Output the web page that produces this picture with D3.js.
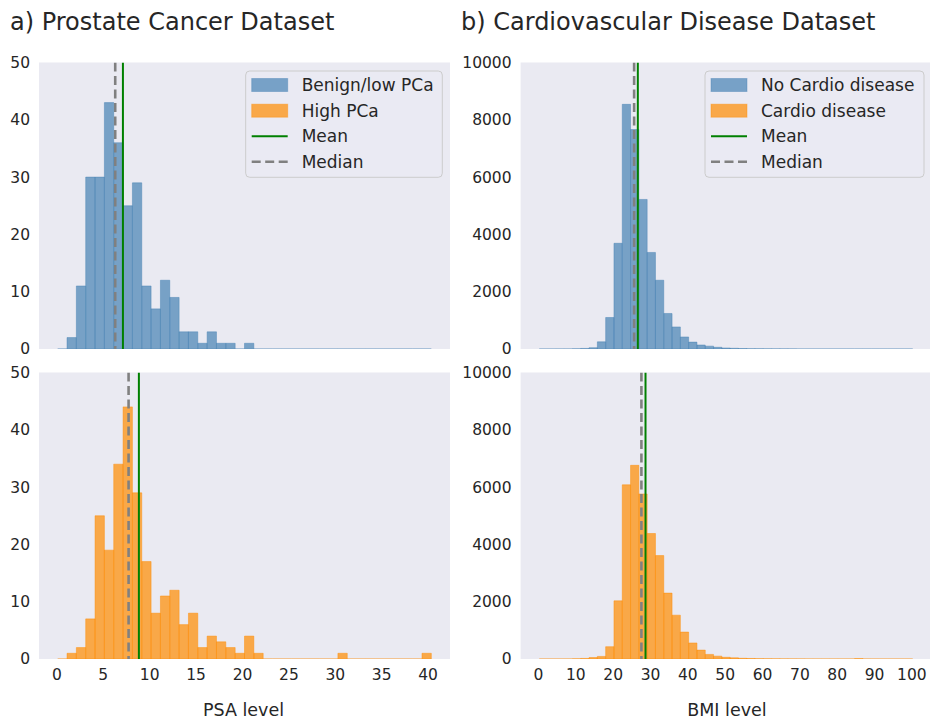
<!DOCTYPE html>
<html>
<head>
<meta charset="utf-8">
<script src="https://cdn.jsdelivr.net/npm/d3@7"></script>
<style>
  html, body { margin: 0; padding: 0; background: #ffffff; }
  svg { display: block; font-family: "DejaVu Sans", sans-serif; }
</style>
</head>
<body>
<svg id="chart" width="930" height="720"></svg>
<script>
// ---------------- Data ----------------
// Prostate dataset: PSA histogram, 40 equal bins from psaRange[0] to psaRange[1]
const psaRange = [0.14, 40.4];
const psaLowCounts  = [0, 2, 11, 30, 30, 43, 36, 25, 29, 11, 7, 12, 9, 3, 3, 1, 3, 1, 1, 0,
                       1, 0, 0, 0, 0, 0, 0, 0, 0, 0, 0, 0, 0, 0, 0, 0, 0, 0, 0, 0];
const psaHighCounts = [0, 1, 2, 7, 25, 19, 34, 44, 29, 17, 8, 11, 12, 6, 8, 2, 4, 3, 2, 1,
                       4, 1, 0, 0, 0, 0, 0, 0, 0, 0, 1, 0, 0, 0, 0, 0, 0, 0, 0, 1];
const psaLowStats  = { mean: 7.17, median: 6.34 };
const psaHighStats = { mean: 8.89, median: 7.78 };
const psaTicksX = [0, 5, 10, 15, 20, 25, 30, 35, 40];
const psaTicksY = [0, 10, 20, 30, 40, 50];

// Cardio dataset: BMI histogram, 45 equal bins from bmiRange[0] to bmiRange[1]
const bmiRange = [0.35, 100.35];
const bmiNoCounts = [0, 0, 1, 2, 5, 20, 45, 250, 1100, 3690, 8540, 7660, 5220, 3370, 2400, 1240,
                     770, 420, 240, 140, 100, 60, 35, 25, 15, 10, 8, 6, 5, 4, 3, 0, 0, 0, 0,
                     0, 0, 0, 0, 0, 0, 0, 0, 0, 0];
const bmiYesCounts = [0, 0, 0, 1, 5, 20, 50, 90, 430, 2030, 6080, 6760, 5760, 4380, 3610, 2300,
                      1530, 940, 560, 310, 160, 100, 60, 40, 25, 18, 12, 8, 6, 4, 3, 2, 1, 1, 1,
                      1, 1, 1, 15, 1, 0, 0, 0, 0, 0];
const bmiNoStats  = { mean: 26.74, median: 25.75 };
const bmiYesStats = { mean: 28.8, median: 27.7 };
const bmiTicksX = [0, 10, 20, 30, 40, 50, 60, 70, 80, 90, 100];
const bmiTicksY = [0, 2000, 4000, 6000, 8000, 10000];

const titles = ["a) Prostate Cancer Dataset", "b) Cardiovascular Disease Dataset"];
const xLabels = ["PSA level", "BMI level"];
const legendPCa = ["Benign/low PCa", "High PCa", "Mean", "Median"];
const legendCardio = ["No Cardio disease", "Cardio disease", "Mean", "Median"];

// ---------------- Styles ----------------
const BG = "#EAEAF2";
const TXT = "#262626";
const BLUE = "steelblue";
const ORANGE = "darkorange";
const MEAN_C = "green";
const MED_C = "gray";

const svg = d3.select("#chart");

// Layout
const topY = [62.5, 349];
const botY = [372.5, 659];
const leftX = [39, 450];
const rightX = [520.6, 931.4];

const xPSA = d3.scaleLinear().domain([-1.873, 42.413]).range(leftX);
const xBMI = d3.scaleLinear().domain([-4.65, 105.35]).range(rightX);

function binEdges(range, n) {
  const w = (range[1] - range[0]) / n;
  return d3.range(n + 1).map(i => range[0] + i * w);
}

function panel(opts) {
  const { x, yRange, yDomain, yTicks, counts, range, color, stats, showX, xTicks, legend } = opts;
  const y = d3.scaleLinear().domain(yDomain).range([yRange[1], yRange[0]]);
  const g = svg.append("g");
  const [x0, x1] = x.range();

  const clipId = "clip" + Math.random().toString(36).slice(2);
  g.append("clipPath").attr("id", clipId).append("rect")
    .attr("x", x0).attr("y", yRange[0]).attr("width", x1 - x0).attr("height", yRange[1] - yRange[0]);

  g.append("rect").attr("x", x0).attr("y", yRange[0])
    .attr("width", x1 - x0).attr("height", yRange[1] - yRange[0]).attr("fill", BG);

  const edges = binEdges(range, counts.length);
  const bins = counts.map((c, i) => ({ a: edges[i], b: edges[i + 1], c }));

  const plot = g.append("g").attr("clip-path", `url(#${clipId})`);
  plot.selectAll("path.bar").data(bins).enter().append("path")
    .attr("class", "bar")
    .attr("d", d => {
      const p = d3.path();
      const xa = x(d.a), xb = x(d.b), y0 = y(0), yc = y(d.c);
      p.moveTo(xa, y0); p.lineTo(xa, yc); p.lineTo(xb, yc); p.lineTo(xb, y0); p.closePath();
      return p.toString();
    })
    .attr("fill", color).attr("fill-opacity", 0.7)
    .attr("stroke", color).attr("stroke-opacity", 0.45).attr("stroke-width", 1);

  // Median & mean lines
  plot.append("line")
    .attr("x1", x(stats.median)).attr("x2", x(stats.median))
    .attr("y1", yRange[0]).attr("y2", yRange[1])
    .attr("stroke", MED_C).attr("stroke-width", 2.6).attr("stroke-dasharray", "9,4.5");
  plot.append("line")
    .attr("x1", x(stats.mean)).attr("x2", x(stats.mean))
    .attr("y1", yRange[0]).attr("y2", yRange[1])
    .attr("stroke", MEAN_C).attr("stroke-width", 2);

  // Y axis
  const yAxis = d3.axisLeft(y).tickValues(yTicks).tickSize(0).tickPadding(9).tickFormat(d3.format("d"));
  const ya = g.append("g").attr("transform", `translate(${x0},0)`).call(yAxis);
  ya.select(".domain").remove();
  ya.selectAll("text").attr("fill", TXT).style("font-size", "15.5px").style("font-family", "DejaVu Sans");

  if (showX) {
    const xAxis = d3.axisBottom(x).tickValues(xTicks).tickSize(0).tickPadding(10).tickFormat(d3.format("d"));
    const xa = g.append("g").attr("transform", `translate(0,${yRange[1]})`).call(xAxis);
    xa.select(".domain").remove();
    xa.selectAll("text").attr("fill", TXT).style("font-size", "15.5px").style("font-family", "DejaVu Sans");
  }

  if (legend) {
    const { bx, by, bw, bh, labels } = legend;
    const lg = g.append("g");
    lg.append("rect").attr("x", bx).attr("y", by).attr("width", bw).attr("height", bh)
      .attr("rx", 4).attr("fill", BG).attr("fill-opacity", 0.8)
      .attr("stroke", "#cccccc").attr("stroke-width", 1);
    const rows = [85, 110.7, 136.2, 161.7];
    const px = bx + 6;
    labels.forEach((lab, i) => {
      const cy = rows[i];
      if (i === 0 || i === 1) {
        lg.append("rect").attr("x", px).attr("y", cy - 6.5).attr("width", 36).attr("height", 13)
          .attr("fill", i === 0 ? BLUE : ORANGE).attr("fill-opacity", 0.7)
          .attr("stroke", i === 0 ? BLUE : ORANGE).attr("stroke-opacity", 0.4);
      } else if (i === 2) {
        lg.append("line").attr("x1", px).attr("x2", px + 36).attr("y1", cy).attr("y2", cy)
          .attr("stroke", MEAN_C).attr("stroke-width", 2);
      } else {
        lg.append("line").attr("x1", px).attr("x2", px + 36).attr("y1", cy).attr("y2", cy)
          .attr("stroke", MED_C).attr("stroke-width", 2.6).attr("stroke-dasharray", "9,4.5");
      }
      lg.append("text").attr("x", bx + 56).attr("y", cy).attr("dy", "0.36em")
        .attr("fill", TXT).style("font-size", "17px").text(lab);
    });
  }
}

panel({ x: xPSA, yRange: topY, yDomain: [0, 50], yTicks: psaTicksY, counts: psaLowCounts, range: psaRange,
        color: BLUE, stats: psaLowStats, showX: false,
        legend: { bx: 245.7, by: 71, bw: 196.6, bh: 106.3, labels: legendPCa } });
panel({ x: xPSA, yRange: botY, yDomain: [0, 50], yTicks: psaTicksY, counts: psaHighCounts, range: psaRange,
        color: ORANGE, stats: psaHighStats, showX: true, xTicks: psaTicksX });
panel({ x: xBMI, yRange: topY, yDomain: [0, 10000], yTicks: bmiTicksY, counts: bmiNoCounts, range: bmiRange,
        color: BLUE, stats: bmiNoStats, showX: false,
        legend: { bx: 705, by: 71, bw: 219, bh: 106.3, labels: legendCardio } });
panel({ x: xBMI, yRange: botY, yDomain: [0, 10000], yTicks: bmiTicksY, counts: bmiYesCounts, range: bmiRange,
        color: ORANGE, stats: bmiYesStats, showX: true, xTicks: bmiTicksX });

// Titles
svg.append("text").attr("x", 10).attr("y", 30).attr("fill", TXT).style("font-size", "24px").text(titles[0]);
svg.append("text").attr("x", 461).attr("y", 30).attr("fill", TXT).style("font-size", "24px").text(titles[1]);

// X labels
svg.append("text").attr("x", (leftX[0] + leftX[1]) / 2 - 1).attr("y", 716).attr("text-anchor", "middle")
  .attr("fill", TXT).style("font-size", "17.5px").text(xLabels[0]);
svg.append("text").attr("x", 727).attr("y", 716).attr("text-anchor", "middle")
  .attr("fill", TXT).style("font-size", "17.5px").text(xLabels[1]);
</script>
</body>
</html>
